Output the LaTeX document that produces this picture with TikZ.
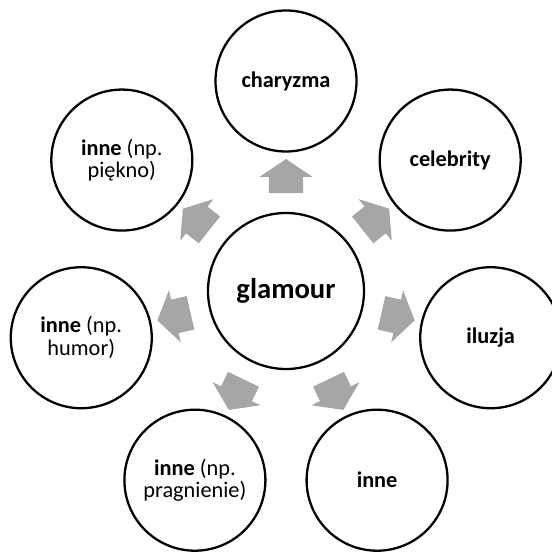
\documentclass[tikz,border=0pt]{standalone}
\usepackage{fontspec}
\setmainfont{Carlito}
\usetikzlibrary{positioning,shapes.arrows,calc}
\definecolor{arrowgray}{RGB}{166,166,166}
\newcommand{\npl}[1]{{\mdseries #1}}

\begin{document}
\begin{tikzpicture}[line width=1.3pt, font=\bfseries\fontsize{12.7}{13}\selectfont]
  \tikzstyle{bubble}=[circle, draw, minimum size=2.82cm, inner sep=0pt, align=center]
  \tikzstyle{hub}=[bubble, minimum size=3.12cm, font=\bfseries\fontsize{16.3}{18}\selectfont]
  \tikzstyle{push}=[single arrow, fill=arrowgray, draw=none,
                    inner xsep=0pt, inner ysep=0.32cm, minimum height=0.68cm,
                    single arrow head extend=0.19cm, single arrow tip angle=112]

  \useasboundingbox (-5.72,-5.22) rectangle (5.32,5.82);

  \node[hub] (glam) at (0,0) {glamour};

  \node[bubble] (char)  at (90:4.2)      {charyzma};
  \node[bubble] (celeb) at (38.57:4.2)   {celebrity};
  \node[bubble] (ilu)   at (-12.86:4.2)  {iluzja};
  \node[bubble] (inne)  at (-64.29:4.2)  {inne};
  \node[bubble] (prag)  at (-115.71:4.2) {inne \npl{(np.}\\\npl{pragnienie)}};
  \node[bubble] (humor) at (-167.14:4.2) {inne \npl{(np.}\\\npl{humor)}};
  \node[bubble] (piek)  at (141.43:4.2)  {inne \npl{(np.}\\\npl{piękno)}};

  \node[push, rotate=90]      (a1) at ($(glam)!0.52!(char)$)  {};
  \node[push, rotate=38.57]   (a2) at ($(glam)!0.52!(celeb)$) {};
  \node[push, rotate=-12.86]  (a3) at ($(glam)!0.52!(ilu)$)   {};
  \node[push, rotate=-64.29]  (a4) at ($(glam)!0.52!(inne)$)  {};
  \node[push, rotate=-115.71] (a5) at ($(glam)!0.52!(prag)$)  {};
  \node[push, rotate=-167.14] (a6) at ($(glam)!0.52!(humor)$) {};
  \node[push, rotate=141.43]  (a7) at ($(glam)!0.52!(piek)$)  {};

\end{tikzpicture}
\end{document}
